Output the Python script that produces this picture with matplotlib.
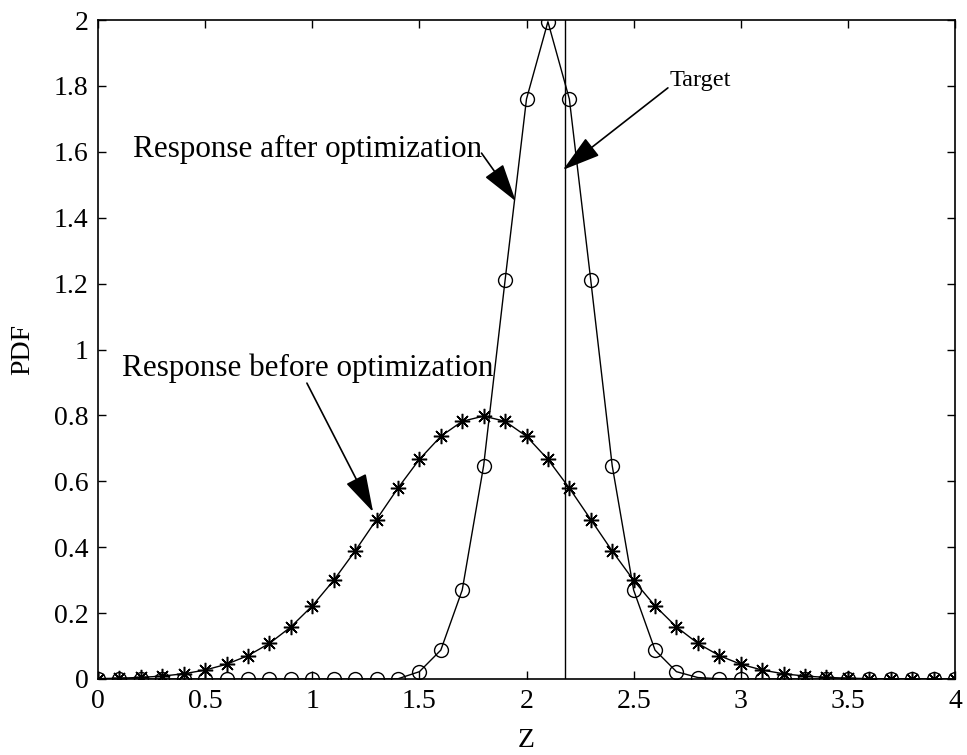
import matplotlib
matplotlib.use("Agg")
import matplotlib.pyplot as plt

plt.rcParams['font.family'] = ['Liberation Serif', 'DejaVu Serif']

# Sample points along Z
z = [round(0.1 * i, 1) for i in range(41)]

# PDF of the response before optimization (asterisks)
pdf_before = [0.0012, 0.0025, 0.0048, 0.0089, 0.0158, 0.0272, 0.0448, 0.0709, 0.1080,
              0.1580, 0.2218, 0.2995, 0.3884, 0.4839, 0.5794, 0.6665, 0.7365, 0.7821,
              0.7979, 0.7821, 0.7365, 0.6665, 0.5794, 0.4839, 0.3884, 0.2995, 0.2218,
              0.1580, 0.1080, 0.0709, 0.0448, 0.0272, 0.0158, 0.0089, 0.0048, 0.0025,
              0.0012, 0.0006, 0.0003, 0.0001, 0.0001]

# PDF of the response after optimization (circles)
pdf_after = [0.0, 0.0, 0.0, 0.0, 0.0, 0.0, 0.0, 0.0, 0.0, 0.0, 0.0, 0.0, 0.0, 0.0001,
             0.0007, 0.0222, 0.0876, 0.2700, 0.6476, 1.2099, 1.7603, 1.9947, 1.7603,
             1.2099, 0.6476, 0.2700, 0.0876, 0.0222, 0.0044, 0.0007, 0.0001, 0.0, 0.0,
             0.0, 0.0, 0.0, 0.0, 0.0, 0.0, 0.0, 0.0]

target = 2.18

xticks = [0, 0.5, 1, 1.5, 2, 2.5, 3, 3.5, 4]
xticklabels = ['0', '0.5', '1', '1.5', '2', '2.5', '3', '3.5', '4']
yticks = [0, 0.2, 0.4, 0.6, 0.8, 1.0, 1.2, 1.4, 1.6, 1.8, 2.0]
yticklabels = ['0', '0.2', '0.4', '0.6', '0.8', '1', '1.2', '1.4', '1.6', '1.8', '2']

fig = plt.figure(figsize=(9.67, 7.55), dpi=100)
ax = fig.add_axes([98 / 967, 1 - 679 / 755, (955 - 98) / 967, (679 - 20) / 755])

ax.plot(z, pdf_before, color='k', lw=1.0, marker=(8, 2, 0), markersize=11,
        markeredgewidth=1.1, markerfacecolor='none')
ax.plot(z, pdf_after, color='k', lw=1.0, marker='o', markersize=10,
        markeredgewidth=1.0, markerfacecolor='none')
ax.axvline(target, color='k', lw=1.0)

ax.set_xlim(0, 4)
ax.set_ylim(0, 2)
ax.set_xticks(xticks)
ax.set_xticklabels(xticklabels)
ax.set_yticks(yticks)
ax.set_yticklabels(yticklabels)
ax.tick_params(direction='in', length=6, width=1.0, labelsize=20,
               top=True, right=True, pad=7)
for s in ax.spines.values():
    s.set_linewidth(1.2)

ax.set_xlabel('Z', fontsize=20, labelpad=10)
ax.set_ylabel('PDF', fontsize=20, labelpad=13)

arrow = dict(arrowstyle='-|>,head_length=1.2,head_width=0.35', color='k',
             lw=1.2, mutation_scale=20, shrinkA=0, shrinkB=0)

ax.annotate('', xy=(2.17, 1.545), xytext=(2.66, 1.794), arrowprops=arrow)
ax.text(2.67, 1.80, 'Target', fontsize=17.5, ha='left', va='baseline')
ax.annotate('', xy=(1.95, 1.45), xytext=(1.79, 1.596), arrowprops=arrow)
ax.text(0.163, 1.584, 'Response after optimization', fontsize=22.4,
        ha='left', va='baseline')
ax.annotate('', xy=(1.284, 0.507), xytext=(0.975, 0.898), arrowprops=arrow)
ax.text(0.112, 0.92, 'Response before optimization', fontsize=22.4,
        ha='left', va='baseline')

fig.savefig('out.png', dpi=100)
